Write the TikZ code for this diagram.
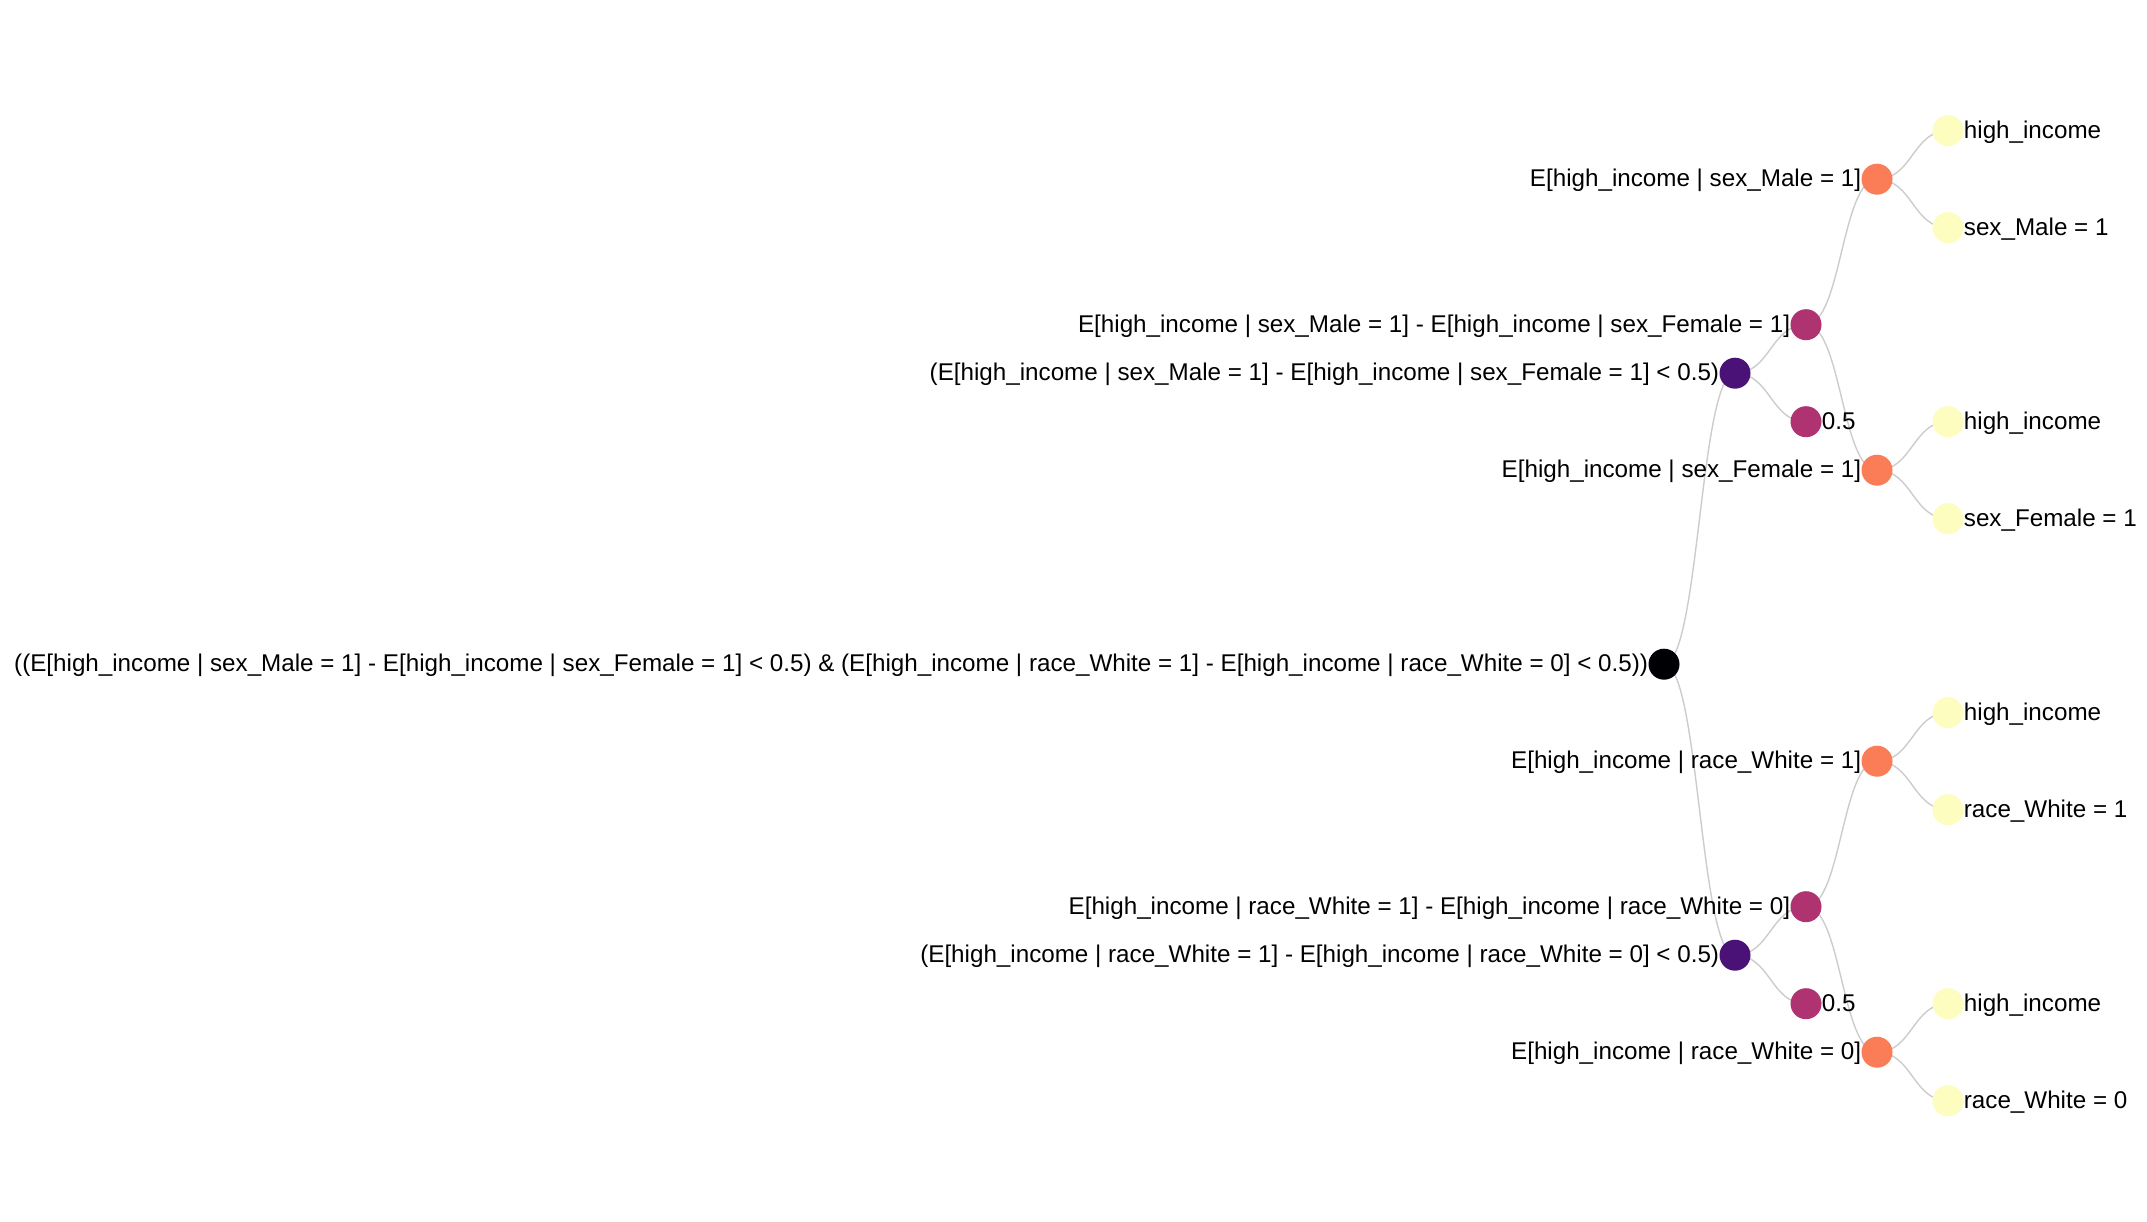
\documentclass[tikz,border=0pt]{standalone}
\usepackage{fontspec}
\setmainfont{Liberation Sans}
\usetikzlibrary{calc,backgrounds}
\definecolor{cBlack}{HTML}{000004}
\definecolor{cPurple}{HTML}{4A1277}
\definecolor{cMagenta}{HTML}{AE3370}
\definecolor{cOrange}{HTML}{FA7D57}
\definecolor{cYellow}{HTML}{FCFDBF}
\definecolor{cLink}{HTML}{CCCCCC}
\tikzset{
  dot/.style={circle,minimum size=31pt,inner sep=0pt,draw=none},
  lblL/.style={anchor=base east,inner sep=0pt,font=\fontsize{24.2}{28}\selectfont},
  lblR/.style={anchor=base west,inner sep=0pt,font=\fontsize{24.2}{28}\selectfont},
  link/.style={draw=cLink,line width=1.4pt},
}
\newcommand{\lnk}[2]{\draw[link] let \p1=(#1.center), \p2=(#2.center) in (\p1) .. controls ({(\x1+\x2)/2},\y1) and ({(\x1+\x2)/2},\y2) .. (\p2);}
\begin{document}
\begin{tikzpicture}[x=1pt,y=-1pt]
\useasboundingbox (0,0) rectangle (2147,1222);
% nodes
\node[dot,fill=cBlack] (root) at (1664,664.2) {};
\node[dot,fill=cPurple] (p1) at (1735,373.2) {};
\node[dot,fill=cMagenta] (d1) at (1806,324.7) {};
\node[dot,fill=cMagenta] (h1) at (1806,421.7) {};
\node[dot,fill=cOrange] (om) at (1877,179.2) {};
\node[dot,fill=cOrange] (of) at (1877,470.2) {};
\node[dot,fill=cYellow] (y1) at (1948,130.7) {};
\node[dot,fill=cYellow] (y2) at (1948,227.7) {};
\node[dot,fill=cYellow] (y3) at (1948,421.7) {};
\node[dot,fill=cYellow] (y4) at (1948,518.7) {};
\node[dot,fill=cPurple] (p2) at (1735,955.2) {};
\node[dot,fill=cMagenta] (d2) at (1806,906.7) {};
\node[dot,fill=cMagenta] (h2) at (1806,1003.7) {};
\node[dot,fill=cOrange] (ow1) at (1877,761.2) {};
\node[dot,fill=cOrange] (ow0) at (1877,1052.2) {};
\node[dot,fill=cYellow] (y5) at (1948,712.7) {};
\node[dot,fill=cYellow] (y6) at (1948,809.7) {};
\node[dot,fill=cYellow] (y7) at (1948,1003.7) {};
\node[dot,fill=cYellow] (y8) at (1948,1100.7) {};
% links
\begin{pgfonlayer}{background}
\lnk{root}{p1} \lnk{root}{p2}
\lnk{p1}{d1} \lnk{p1}{h1}
\lnk{d1}{om} \lnk{d1}{of}
\lnk{om}{y1} \lnk{om}{y2}
\lnk{of}{y3} \lnk{of}{y4}
\lnk{p2}{d2} \lnk{p2}{h2}
\lnk{d2}{ow1} \lnk{d2}{ow0}
\lnk{ow1}{y5} \lnk{ow1}{y6}
\lnk{ow0}{y7} \lnk{ow0}{y8}
\end{pgfonlayer}
% labels
\node[lblL] (lroot) at ($(root.west)+(0,7.6)$) {((E[high\_income | sex\_Male = 1] - E[high\_income | sex\_Female = 1] < 0.5) \& (E[high\_income | race\_White = 1] - E[high\_income | race\_White = 0] < 0.5))};
\node[lblL] (lp1) at ($(p1.west)+(0,7.6)$) {(E[high\_income | sex\_Male = 1] - E[high\_income | sex\_Female = 1] < 0.5)};
\node[lblL] (ld1) at ($(d1.west)+(0,7.6)$) {E[high\_income | sex\_Male = 1] - E[high\_income | sex\_Female = 1]};
\node[lblR] (lh1) at ($(h1.east)+(0,7.6)$) {0.5};
\node[lblL] (lom) at ($(om.west)+(0,7.6)$) {E[high\_income | sex\_Male = 1]};
\node[lblL] (lof) at ($(of.west)+(0,7.6)$) {E[high\_income | sex\_Female = 1]};
\node[lblR] (ly1) at ($(y1.east)+(0,7.6)$) {high\_income};
\node[lblR] (ly2) at ($(y2.east)+(0,7.6)$) {sex\_Male = 1};
\node[lblR] (ly3) at ($(y3.east)+(0,7.6)$) {high\_income};
\node[lblR] (ly4) at ($(y4.east)+(0,7.6)$) {sex\_Female = 1};
\node[lblL] (lp2) at ($(p2.west)+(0,7.6)$) {(E[high\_income | race\_White = 1] - E[high\_income | race\_White = 0] < 0.5)};
\node[lblL] (ld2) at ($(d2.west)+(0,7.6)$) {E[high\_income | race\_White = 1] - E[high\_income | race\_White = 0]};
\node[lblR] (lh2) at ($(h2.east)+(0,7.6)$) {0.5};
\node[lblL] (low1) at ($(ow1.west)+(0,7.6)$) {E[high\_income | race\_White = 1]};
\node[lblL] (low0) at ($(ow0.west)+(0,7.6)$) {E[high\_income | race\_White = 0]};
\node[lblR] (ly5) at ($(y5.east)+(0,7.6)$) {high\_income};
\node[lblR] (ly6) at ($(y6.east)+(0,7.6)$) {race\_White = 1};
\node[lblR] (ly7) at ($(y7.east)+(0,7.6)$) {high\_income};
\node[lblR] (ly8) at ($(y8.east)+(0,7.6)$) {race\_White = 0};
\end{tikzpicture}
\end{document}
